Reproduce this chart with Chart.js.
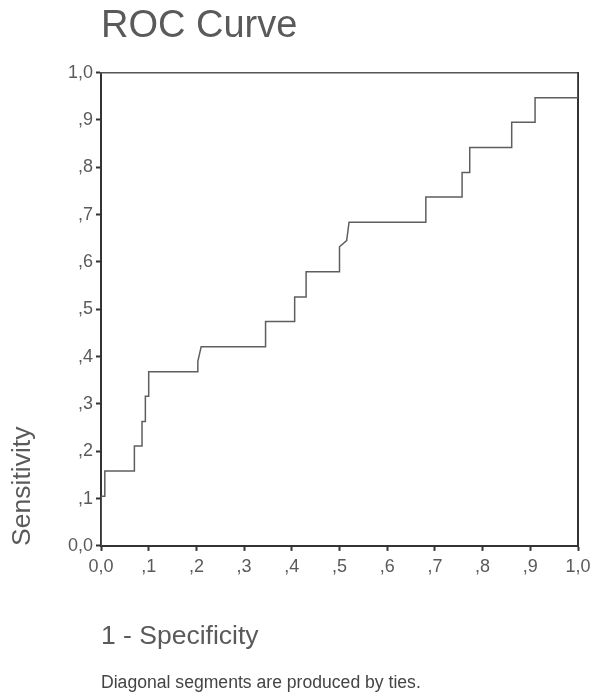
<!DOCTYPE html>
<html>
<head>
<meta charset="utf-8">
<script src="https://cdn.jsdelivr.net/npm/chart.js@4.4.1/dist/chart.umd.min.js"></script>
<style>
  html, body { margin: 0; padding: 0; background: #fff; }
  canvas { display: block; }
</style>
</head>
<body>
<canvas id="roc" width="592" height="700"></canvas>
<script>
// ROC curve points (1 - specificity, sensitivity)
const specificityPts = [0, 0, 0.008, 0.008, 0.07, 0.07, 0.086, 0.086, 0.093, 0.093, 0.10, 0.10,
  0.203, 0.203, 0.21, 0.345, 0.345, 0.406, 0.406, 0.43, 0.43, 0.50, 0.50, 0.515, 0.52,
  0.681, 0.681, 0.757, 0.757, 0.773, 0.773, 0.861, 0.861, 0.91, 0.91, 1.0, 1.0];
const sensitivityPts = [0, 0.105, 0.105, 0.158, 0.158, 0.211, 0.211, 0.263, 0.263, 0.316, 0.316, 0.368,
  0.368, 0.39, 0.421, 0.421, 0.474, 0.474, 0.526, 0.526, 0.579, 0.579, 0.632, 0.645, 0.684,
  0.684, 0.737, 0.737, 0.789, 0.789, 0.842, 0.842, 0.895, 0.895, 0.947, 0.947, 1.0];

const xTickLabels = ["0,0", ",1", ",2", ",3", ",4", ",5", ",6", ",7", ",8", ",9", "1,0"];
const yTickLabels = ["0,0", ",1", ",2", ",3", ",4", ",5", ",6", ",7", ",8", ",9", "1,0"];

const FONT = "'Liberation Sans', Arial, sans-serif";
const textColor = "#5a5a5a";
const axisColor = "#333";

const points = specificityPts.map((x, i) => ({ x: x, y: sensitivityPts[i] }));

const ctx = document.getElementById("roc").getContext("2d");
new Chart(ctx, {
  type: "line",
  data: {
    datasets: [{
      data: points,
      borderColor: "#5e5e5e",
      borderWidth: 1.5,
      pointRadius: 0,
      tension: 0,
      fill: false
    }]
  },
  options: {
    responsive: false,
    animation: false,
    layout: { padding: 0 },
    plugins: {
      legend: { display: false },
      tooltip: { enabled: false },
      title: {
        display: true,
        text: "ROC Curve",
        align: "start",
        fullSize: false,
        color: textColor,
        font: { family: FONT, size: 38, weight: "normal" },
        padding: { top: 4, bottom: 23 }
      },
      subtitle: {
        display: true,
        position: "bottom",
        text: "Diagonal segments are produced by ties.",
        align: "start",
        fullSize: false,
        color: "#444",
        font: { family: FONT, size: 17.6 },
        padding: { top: 0, bottom: 6 }
      }
    },
    scales: {
      x: {
        type: "linear",
        position: "bottom",
        min: 0, max: 1,
        afterBuildTicks: s => { s.ticks = xTickLabels.map((_, i) => ({ value: i / 10 })); },
        ticks: {
          callback: (v, i) => xTickLabels[i],
          color: textColor,
          font: { family: FONT, size: 18 },
          padding: 5,
          maxRotation: 0,
          autoSkip: false
        },
        grid: { drawOnChartArea: false, tickLength: 5, tickColor: axisColor, tickWidth: 2 },
        border: { color: axisColor, width: 2 },
        title: {
          display: true,
          text: "1 - Specificity",
          align: "start",
          color: textColor,
          font: { family: FONT, size: 26.5 },
          padding: { top: 0, bottom: 20 }
        },
        afterFit: s => { s.height = 127; s.paddingRight = 0; }
      },
      y: {
        type: "linear",
        position: "left",
        min: 0, max: 1,
        afterBuildTicks: s => { s.ticks = yTickLabels.map((_, i) => ({ value: i / 10 })); },
        ticks: {
          callback: (v, i) => yTickLabels[i],
          color: textColor,
          font: { family: FONT, size: 18 },
          padding: 3,
          autoSkip: false
        },
        grid: { drawOnChartArea: false, tickLength: 5, tickColor: axisColor, tickWidth: 2 },
        border: { color: axisColor, width: 2 },
        title: {
          display: true,
          text: "Sensitivity",
          align: "start",
          color: textColor,
          font: { family: FONT, size: 26.5 },
          padding: { top: 7, bottom: 0 }
        },
        afterFit: s => { s.width = 101; }
      },
      xTop: {
        type: "linear",
        position: "top",
        min: 0, max: 1,
        ticks: { display: false },
        grid: { drawOnChartArea: false, drawTicks: false },
        border: { color: "#555", width: 1.5 },
        afterFit: s => { s.height = 0; }
      },
      yRight: {
        type: "linear",
        position: "right",
        min: 0, max: 1,
        ticks: { display: false },
        grid: { drawOnChartArea: false, drawTicks: false },
        border: { color: axisColor, width: 2 },
        afterFit: s => { s.width = 14; }
      }
    }
  }
});
</script>
</body>
</html>
